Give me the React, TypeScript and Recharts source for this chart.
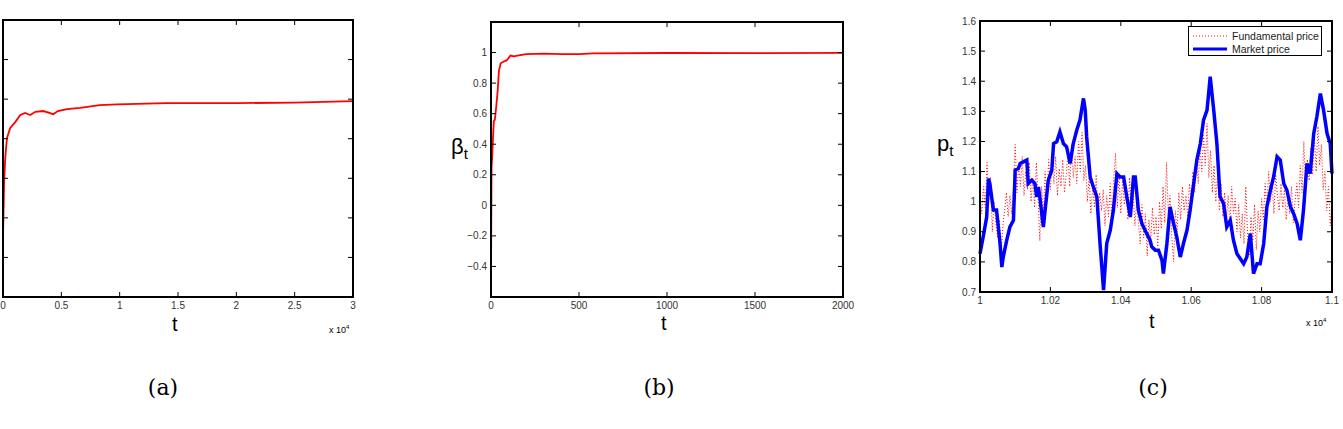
import { LineChart, Line, XAxis, YAxis, Legend } from "recharts";

// (a) convergence over 3 x 10^4 steps (y labels are cut off in the source)
const aTime = [0, 100, 200, 340, 620, 1050, 1480, 1900, 2340, 2770, 3450, 3900, 4300, 4700, 5500, 6600, 8300, 9800, 14000, 20000, 25000, 30000];
const aValue = [1.52, 2.96, 3.54, 4.02, 4.27, 4.42, 4.6, 4.65, 4.6, 4.68, 4.7, 4.66, 4.62, 4.7, 4.75, 4.78, 4.85, 4.87, 4.9, 4.9, 4.91, 4.95];
const aXTicks = [0, 5000, 10000, 15000, 20000, 25000, 30000];
const aXLabels = ["0", "0.5", "1", "1.5", "2", "2.5", "3"];
const aYTicks = [1, 2, 3, 4, 5, 6];

// (b) beta_t
const bTime = [0, 3, 6, 11, 16, 22, 30, 38, 45, 55, 70, 90, 110, 130, 150, 200, 300, 400, 500, 580, 1000, 1500, 2000];
const bBeta = [-0.5, 0.25, 0.3, 0.43, 0.55, 0.56, 0.65, 0.75, 0.88, 0.93, 0.94, 0.95, 0.98, 0.975, 0.98, 0.99, 0.993, 0.99, 0.99, 0.995, 0.997, 0.996, 0.998];
const bXTicks = [0, 500, 1000, 1500, 2000];
const bXLabels = ["0", "500", "1000", "1500", "2000"];
const bYTicks = [-0.4, -0.2, 0, 0.2, 0.4, 0.6, 0.8, 1];
const bYLabels = ["\u22120.4", "\u22120.2", "0", "0.2", "0.4", "0.6", "0.8", "1"];

// (c) prices
const marketTime = [10000, 10009, 10019, 10024, 10028, 10038, 10047, 10052, 10057, 10062, 10066, 10076, 10085, 10095, 10100, 10109, 10114, 10123, 10133, 10137, 10147, 10156, 10161, 10166, 10171, 10180, 10185, 10194, 10204, 10209, 10218, 10227, 10237, 10246, 10256, 10265, 10275, 10284, 10294, 10299, 10303, 10313, 10322, 10332, 10341, 10351, 10360, 10370, 10379, 10389, 10398, 10408, 10417, 10427, 10436, 10441, 10450, 10460, 10469, 10483, 10488, 10498, 10507, 10517, 10521, 10531, 10540, 10550, 10559, 10569, 10578, 10588, 10597, 10616, 10626, 10635, 10645, 10654, 10664, 10673, 10682, 10692, 10701, 10711, 10720, 10730, 10749, 10758, 10768, 10777, 10787, 10796, 10806, 10815, 10825, 10834, 10844, 10853, 10863, 10872, 10882, 10891, 10901, 10910, 10919, 10929, 10938, 10948, 10957, 10967, 10976, 10986, 10995, 11000];
const marketPrice = [0.827, 0.883, 0.949, 1.077, 1.06, 0.972, 0.972, 0.916, 0.861, 0.783, 0.816, 0.872, 0.916, 0.938, 1.105, 1.11, 1.127, 1.132, 1.138, 1.06, 1.071, 1.06, 1.016, 1.049, 1.005, 0.916, 0.972, 1.071, 1.105, 1.193, 1.199, 1.232, 1.193, 1.182, 1.127, 1.193, 1.238, 1.271, 1.343, 1.304, 1.215, 1.082, 1.049, 1.016, 0.861, 0.706, 0.861, 0.905, 0.972, 1.093, 1.082, 1.082, 1.016, 0.949, 1.082, 1.082, 0.972, 0.927, 0.905, 0.872, 0.85, 0.839, 0.839, 0.805, 0.761, 0.861, 0.983, 0.927, 0.883, 0.816, 0.861, 0.905, 0.972, 1.138, 1.193, 1.271, 1.304, 1.415, 1.304, 1.193, 1.016, 0.994, 0.916, 0.938, 0.872, 0.827, 0.794, 0.816, 0.894, 0.761, 0.794, 0.794, 0.861, 0.983, 1.038, 1.082, 1.149, 1.138, 1.06, 1.038, 0.983, 0.96, 0.927, 0.872, 0.972, 1.127, 1.093, 1.226, 1.282, 1.359, 1.304, 1.226, 1.193, 1.093];

const fundStart = 10000;
const fundStep = 5;
const fundPrice = [
  1.02, 0.96, 1.05, 0.98, 1.13, 1.0, 1.08, 0.9, 1.0, 0.93,
  0.88, 0.94, 0.83, 0.92, 0.97, 1.03, 0.95, 1.02, 0.96, 1.04,
  1.19, 1.03, 1.12, 1.05, 1.15, 1.02, 1.1, 1.04, 1.13, 1.0,
  1.08, 0.98, 1.13, 1.01, 0.87, 1.05, 0.95, 1.1, 1.0, 1.14,
  1.04, 1.13, 1.06, 1.15, 1.02, 1.11, 1.05, 1.14, 1.03, 1.09,
  1.16, 1.05, 1.19, 1.08, 1.15, 1.06, 1.2, 1.1, 1.23, 1.07,
  1.12, 1.0, 1.08, 0.96, 1.05, 0.98, 1.09, 0.94, 1.03, 0.97,
  1.04, 0.92, 1.02, 0.95, 1.06, 0.93, 1.08, 1.16, 0.98, 1.09,
  0.96, 1.07, 0.99, 1.05, 0.94, 1.08, 0.97, 1.03, 0.92, 1.0,
  0.93, 0.86, 0.99, 0.88, 0.96, 0.82, 0.94, 0.87, 0.98, 0.89,
  0.95, 0.85, 1.0, 0.91, 1.05, 0.93, 1.13, 0.96, 1.02, 0.88,
  0.8, 0.97, 0.9, 1.03, 0.94, 1.05, 0.97, 1.02, 0.95, 1.06,
  1.0, 1.1, 1.03, 1.15, 1.06, 1.18, 1.1, 1.22, 1.12, 1.26,
  1.08, 1.17, 1.03, 1.12, 1.0, 1.09, 0.97, 1.06, 0.95, 1.03,
  0.94, 1.02, 0.92, 1.05, 0.96, 1.01, 0.9, 0.99, 0.88, 0.96,
  0.86, 1.05, 0.9, 0.82, 0.95, 0.87, 0.99, 0.84, 0.97, 0.9,
  1.01, 0.94, 1.06, 0.98, 1.1, 1.0, 1.07, 0.96, 1.09, 1.02,
  0.97, 1.06, 0.98, 1.04, 0.94, 1.02, 0.96, 1.05, 0.93, 1.0,
  1.06, 0.98, 1.12, 1.03, 1.2, 1.05, 1.14, 1.07, 1.18, 1.09,
  1.22, 1.1, 1.25, 1.12, 1.19, 1.04, 1.1, 0.97, 1.05, 0.92,
  1.0,
];
const cXTicks = [10000, 10200, 10400, 10600, 10800, 11000];
const cXLabels = ["1", "1.02", "1.04", "1.06", "1.08", "1.1"];
const cYTicks = [0.7, 0.8, 0.9, 1, 1.1, 1.2, 1.3, 1.4, 1.5, 1.6];
const cYLabels = ["0.7", "0.8", "0.9", "1", "1.1", "1.2", "1.3", "1.4", "1.5", "1.6"];

const seriesNames = ["Fundamental price", "Market price"];

const SANS = "'Liberation Sans', Arial, sans-serif";
const tickStyle = { fill: "#333", fontSize: 10, fontFamily: SANS };
const axisLine = { stroke: "#000", strokeWidth: 1.5 };
const tickLine = { stroke: "#000", strokeWidth: 1 };
const blank = () => "";

const dataA = aTime.map((t, i) => ({ t, v: aValue[i] }));
const dataB = bTime.map((t, i) => ({ t, v: bBeta[i] }));
const dataMarket = marketTime.map((t, i) => ({ t, v: marketPrice[i] }));
const dataFund = fundPrice.map((v, i) => ({ t: fundStart + i * fundStep, v }));

// look a tick value up in its label list
const labelFor = (ticks: number[], labels: string[] | null) => (v: number) => {
  if (!labels) return "";
  const i = ticks.findIndex((t) => Math.abs(t - v) < 1e-9);
  return i >= 0 ? labels[i] : "";
};

// MATLAB-like box: inward ticks on all four sides
function boxAxes(
  xDomain: number[],
  xTicks: number[],
  xLabels: string[],
  yDomain: number[],
  yTicks: number[],
  yLabels: string[] | null,
  yWidth: number
) {
  return [
    <XAxis
      key="xb"
      type="number"
      dataKey="t"
      domain={xDomain}
      ticks={xTicks}
      height={30}
      tickSize={-5}
      tickMargin={10}
      axisLine={axisLine}
      tickLine={tickLine}
      tick={tickStyle}
      tickFormatter={labelFor(xTicks, xLabels)}
    />,
    <XAxis
      key="xt"
      xAxisId="top"
      orientation="top"
      type="number"
      dataKey="t"
      domain={xDomain}
      ticks={xTicks}
      height={2}
      tickSize={-5}
      axisLine={axisLine}
      tickLine={tickLine}
      tickFormatter={blank}
    />,
    <YAxis
      key="yl"
      type="number"
      domain={yDomain}
      ticks={yTicks}
      width={yWidth}
      tickSize={-5}
      tickMargin={9}
      axisLine={axisLine}
      tickLine={tickLine}
      tick={tickStyle}
      tickFormatter={labelFor(yTicks, yLabels)}
    />,
    <YAxis
      key="yr"
      yAxisId="right"
      orientation="right"
      type="number"
      domain={yDomain}
      ticks={yTicks}
      width={2}
      tickSize={-5}
      axisLine={axisLine}
      tickLine={tickLine}
      tickFormatter={blank}
    />,
  ];
}

const abs = (left: number, top: number, extra: React.CSSProperties = {}): React.CSSProperties => ({
  position: "absolute",
  left,
  top,
  ...extra,
});

// frame drawn over each plot area (x, y, w, h of the plot box in page pixels)
const frame = (x: number, y: number, w: number, h: number): React.CSSProperties => ({
  position: "absolute",
  left: x - 1,
  top: y - 1,
  width: w + 2,
  height: h + 2,
  border: "2px solid #000",
  boxSizing: "border-box",
  pointerEvents: "none",
});

function LegendBox() {
  return (
    <div
      style={{
        border: "1.5px solid #000",
        background: "#fff",
        width: 134,
        height: 30,
        boxSizing: "border-box",
        fontFamily: SANS,
        fontSize: 10.5,
        color: "#222",
        padding: "2px 0 0 3px",
      }}
    >
      <div style={{ display: "flex", alignItems: "center", height: 13 }}>
        <svg width={36} height={6}>
          <line x1={1} y1={3} x2={35} y2={3} stroke="#ff0000" strokeWidth={1} strokeDasharray="1 2" />
        </svg>
        <span style={{ marginLeft: 4 }}>{seriesNames[0]}</span>
      </div>
      <div style={{ display: "flex", alignItems: "center", height: 13 }}>
        <svg width={36} height={6}>
          <line x1={1} y1={3} x2={35} y2={3} stroke="#0000ff" strokeWidth={3} />
        </svg>
        <span style={{ marginLeft: 4 }}>{seriesNames[1]}</span>
      </div>
    </div>
  );
}

const label: React.CSSProperties = { fontFamily: SANS, color: "#000", lineHeight: 1, whiteSpace: "nowrap" };
const caption: React.CSSProperties = {
  fontFamily: "'DejaVu Serif', serif",
  fontSize: 22,
  lineHeight: 1,
  transform: "translate(-50%, -50%)",
};

export default function App() {
  return (
    <div style={{ position: "absolute", left: 0, top: 0, width: 1343, height: 429, background: "#fff", overflow: "hidden" }}>
      <div style={abs(0, 0)}>
        <LineChart width={380} height={340} data={dataA} margin={{ top: 18, right: 25, bottom: 13, left: 2 }}>
          {boxAxes([0, 30000], aXTicks, aXLabels, [0, 7], aYTicks, null, 1)}
          {/* transparent copy bound to the mirrored top/right axes */}
          <Line xAxisId="top" yAxisId="right" type="linear" dataKey="v" stroke="transparent" dot={false} activeDot={false} isAnimationActive={false} />
          <Line type="linear" dataKey="v" stroke="#ff0000" strokeWidth={1.8} dot={false} isAnimationActive={false} />
        </LineChart>
      </div>
      <div style={frame(3, 20, 350, 277)} />

      <div style={abs(440, 0)}>
        <LineChart width={420} height={340} data={dataB} margin={{ top: 20, right: 15, bottom: 13, left: 11 }}>
          {boxAxes([0, 2000], bXTicks, bXLabels, [-0.6, 1.2], bYTicks, bYLabels, 40)}
          <Line xAxisId="top" yAxisId="right" type="linear" dataKey="v" stroke="transparent" dot={false} activeDot={false} isAnimationActive={false} />
          <Line type="linear" dataKey="v" stroke="#ff0000" strokeWidth={1.8} dot={false} isAnimationActive={false} />
        </LineChart>
      </div>
      <div style={frame(491, 22, 352, 275)} />

      <div style={abs(930, 0)}>
        <LineChart width={413} height={340} data={dataMarket} margin={{ top: 19, right: 9, bottom: 18, left: 10 }}>
          {boxAxes([10000, 11000], cXTicks, cXLabels, [0.7, 1.6], cYTicks, cYLabels, 40)}
          <Line
            data={dataFund}
            xAxisId="top"
            yAxisId="right"
            type="linear"
            dataKey="v"
            name={seriesNames[0]}
            stroke="#ff0000"
            strokeWidth={1}
            strokeDasharray="1 2"
            dot={false}
            isAnimationActive={false}
          />
          <Line
            type="linear"
            dataKey="v"
            name={seriesNames[1]}
            stroke="#0000ff"
            strokeWidth={3.5}
            dot={false}
            isAnimationActive={false}
          />
          <Legend
            layout="vertical"
            align="center"
            verticalAlign="middle"
            wrapperStyle={{ top: 26, left: 258, width: 136 }}
            content={() => <LegendBox />}
          />
        </LineChart>
      </div>
      <div style={frame(980, 21, 352, 271)} />

      {/* axis titles */}
      <div style={abs(172, 314, { ...label, fontSize: 20 })}>t</div>
      <div style={abs(329, 324, { ...label, fontSize: 9 })}>
        x 10<sup style={{ fontSize: 6 }}>4</sup>
      </div>

      <div style={abs(451, 136, { ...label, fontSize: 22 })}>
        β<sub style={{ fontSize: 15 }}>t</sub>
      </div>
      <div style={abs(661, 313, { ...label, fontSize: 20 })}>t</div>

      <div style={abs(937, 133, { ...label, fontSize: 22 })}>
        p<sub style={{ fontSize: 15 }}>t</sub>
      </div>
      <div style={abs(1149, 311, { ...label, fontSize: 20 })}>t</div>
      <div style={abs(1306, 317, { ...label, fontSize: 9 })}>
        x 10<sup style={{ fontSize: 6 }}>4</sup>
      </div>

      {/* captions */}
      <div style={abs(163, 388, caption)}>(a)</div>
      <div style={abs(659, 388, caption)}>(b)</div>
      <div style={abs(1153, 388, caption)}>(c)</div>
    </div>
  );
}
